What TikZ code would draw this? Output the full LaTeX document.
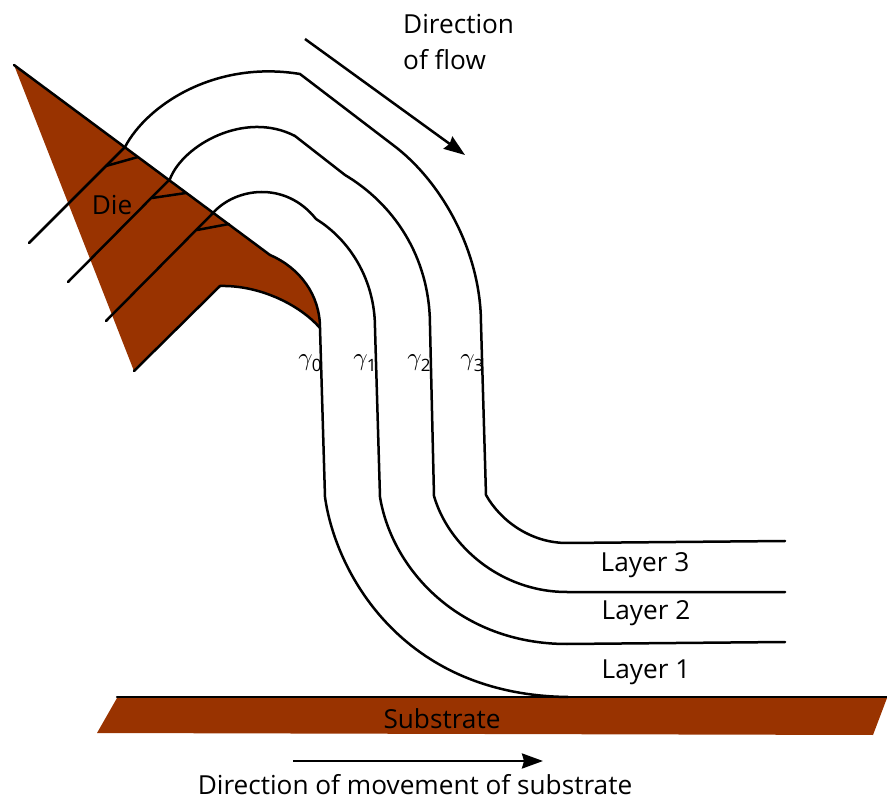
\documentclass[tikz,border=0pt]{standalone}
\usepackage{fontspec}
\setmainfont{Open Sans}
\usetikzlibrary{arrows.meta}
\definecolor{rust}{RGB}{153,51,0}
\newcommand{\gammalbl}[1]{\scalebox{2.5}{$\gamma$}\kern-1pt\raisebox{-6pt}{\fontsize{17}{17}\selectfont #1}}
\tikzset{
  curve/.style={line width=2.5pt,line cap=round,line join=round,draw=black},
  flow/.style={line width=2.5pt,-{Stealth[length=21pt,width=15pt,inset=2pt]}},
  lbl/.style={font=\fontsize{26.2}{30}\selectfont,inner sep=0pt,text=black},
  gam/.style={inner sep=0pt}
}
\begin{document}
\begin{tikzpicture}[x=1pt,y=-1pt]
\useasboundingbox (0,0) rectangle (887,799);
% die
\fill[rust] (14,65) -- (270,255) .. controls (300,268) and (320,295) .. (320,328)
  .. controls (300,305) and (260,285) .. (220,286) -- (134,371) -- cycle;
\draw[curve] (14,65) -- (270,255);
\draw[curve] (270,255) .. controls (300,268) and (320,295) .. (320,328);
\draw[curve] (320,328) .. controls (300,305) and (260,285) .. (220,286) -- (134,371);
% substrate
\fill[rust] (117,698) -- (887,698) -- (873,735) -- (97,733) -- cycle;
\draw[curve] (117,697) -- (887,697);
% layers
\draw[curve] (320,328) -- (325,497) .. controls (335,570) and (400,695) .. (568,697);
\draw[curve] (29,243) -- (125,147) .. controls (147,105) and (215,60) .. (300,74)
  -- (393,145) .. controls (440,180) and (481,250) .. (481,324) -- (486,495)
  .. controls (500,520) and (530,543) .. (567,543) -- (785,541);
\draw[curve] (68,282) -- (170,179) .. controls (183,145) and (245,110) .. (295,136)
  -- (345,175) .. controls (392,203) and (430,255) .. (430,326) -- (434,496)
  .. controls (448,545) and (500,592) .. (567,592) -- (785,592);
\draw[curve] (106,321) -- (213,213) .. controls (235,188) and (285,180) .. (316,219)
  .. controls (350,240) and (375,280) .. (375,328) -- (380,497)
  .. controls (392,570) and (460,644) .. (567,644) -- (785,642);
% ticks
\draw[curve] (106,166) -- (138,157);
\draw[curve] (152,198) -- (186,193);
\draw[curve] (197,230) -- (229,224);
% arrows
\coordinate (fa) at (305,39); \coordinate (fb) at (465,155);
\coordinate (sa) at (293,761); \coordinate (sb) at (543,761);
\draw[flow] (fa) -- (fb);
\draw[flow] (sa) -- (sb);
% labels
\node[lbl,anchor=west] (d1) at (403,24) {Direction};
\node[lbl,anchor=west] (d2) at (403,60) {of flow};
\node[lbl] (die) at (112,205) {Die};
\node[lbl] (l3) at (645,565) {Layer 3};
\node[lbl] (l2) at (646,613) {Layer 2};
\node[lbl] (l1) at (646,672) {Layer 1};
\node[lbl] (sub) at (442,719) {Substrate};
\node[lbl] (mov) at (415,785) {Direction of movement of substrate};
\node[gam] (g0) at (310,363) {\gammalbl{0}};
\node[gam] (g1) at (365,363) {\gammalbl{1}};
\node[gam] (g2) at (419,363) {\gammalbl{2}};
\node[gam] (g3) at (472,363) {\gammalbl{3}};
\end{tikzpicture}
\end{document}
